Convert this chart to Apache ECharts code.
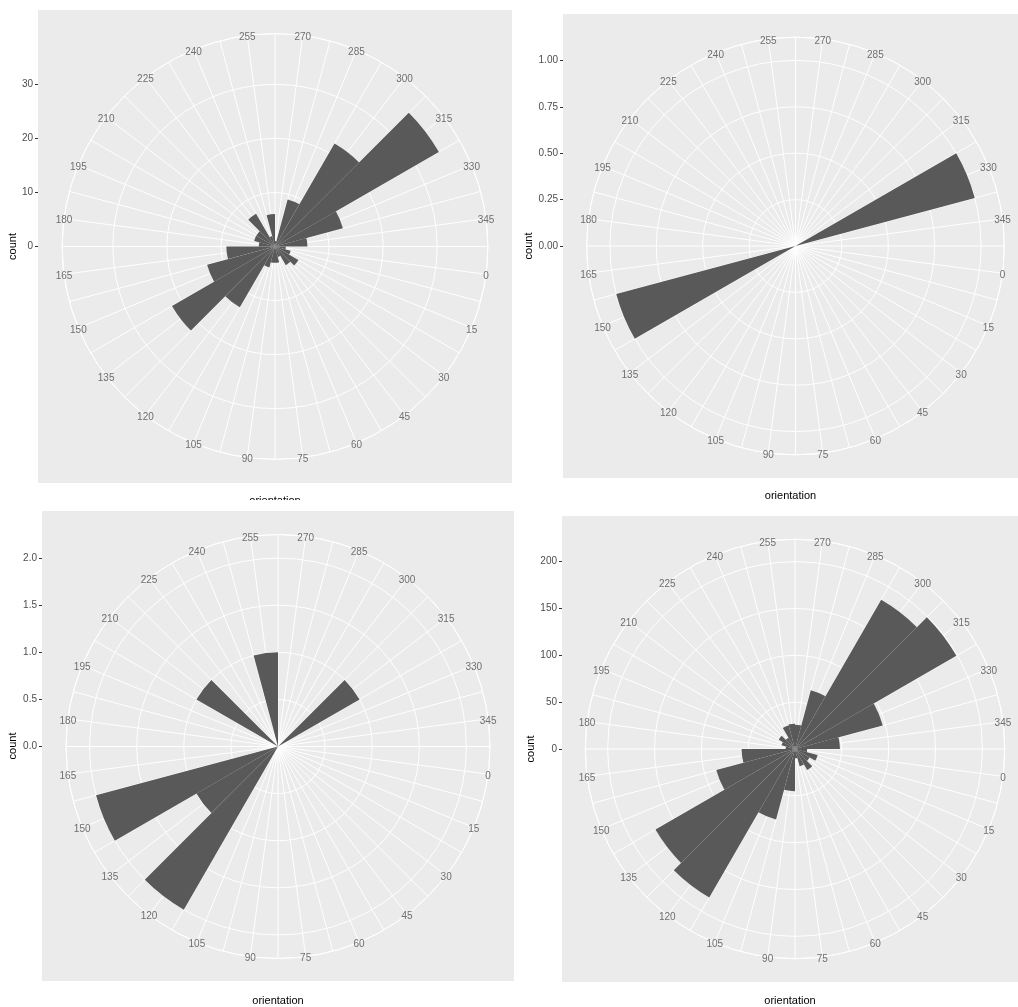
<!DOCTYPE html>
<html><head><meta charset="utf-8">
<script src="https://cdn.jsdelivr.net/npm/echarts@6/dist/echarts.min.js"></script>
<style>html,body{margin:0;padding:0;background:#fff;}#c{width:1018px;height:1007px;}</style>
</head><body><div id="c"></div>
<script>
// ---- data ----
const orientationBins = [0,15,30,45,60,75,90,105,120,135,150,165,180,195,210,225,240,255,270,285,300,315,330,345];
const angleTickLabels = ['0','15','30','45','60','75','90','105','120','135','150','165','180','195','210','225','240','255','270','285','300','315','330','345'];
const counts1 = [2,3,5,4,2,3,3,4,13,22,13,9,3,4,4,7,2,6,1,9,22,35,13,6];
const counts2 = [0,0,0,0,0,0,0,0,0,0,1,0,0,0,0,0,0,0,0,0,0,0,1,0];
const counts3 = [0,0,0,0,0,0,0,0,2,1,2,0,0,0,1,0,0,1,0,0,0,1,0,0];
const counts4 = [13,25,18,26,19,10,45,78,183,172,87,57,10,15,20,14,26,27,26,65,184,199,97,48];
const countTicks1 = [0,10,20,30];
const countTickLabels1 = ['0','10','20','30'];
const countTicks2 = [0,0.25,0.5,0.75,1];
const countTickLabels2 = ['0.00','0.25','0.50','0.75','1.00'];
const countTicks3 = [0,0.5,1,1.5,2];
const countTickLabels3 = ['0.0','0.5','1.0','1.5','2.0'];
const countTicks4 = [0,50,100,150,200];
const countTickLabels4 = ['0','50','100','150','200'];
const xTitle = 'orientation';
const yTitle = 'count';

// ---- layout (pixels) ----
const panels = [
  {left:38, top:10, w:474, h:473, counts:counts1, ticks:countTicks1, tickLabels:countTickLabels1, step:10, nameGap:20, xGap:12},
  {left:563, top:14, w:465, h:464, counts:counts2, ticks:countTicks2, tickLabels:countTickLabels2, step:0.25, nameGap:28, xGap:12},
  {left:42, top:511, w:472, h:471, counts:counts3, ticks:countTicks3, tickLabels:countTickLabels3, step:0.5, nameGap:24, xGap:14},
  {left:562, top:516, w:466, h:466, counts:counts4, ticks:countTicks4, tickLabels:countTickLabels4, step:50, nameGap:25, xGap:13}
];
const FONT = 'Liberation Sans, Arial, sans-serif';
const option = {
  backgroundColor:'#ffffff', animation:false,
  grid:[], xAxis:[], yAxis:[], polar:[], angleAxis:[], radiusAxis:[], series:[],
  graphic:[{type:'rect', shape:{x:0,y:500,width:512,height:10}, style:{fill:'#ffffff'}, z:100, silent:true}]
};
panels.forEach((p,i)=>{
  const M = Math.max(...p.counts);          // count scale upper limit
  const half = p.h/2;
  const cx = p.left + p.w/2, cy = p.top + p.h/2;
  option.grid.push({left:p.left, top:p.top, width:p.w, height:p.h, show:true, backgroundColor:'#EBEBEB', borderWidth:0, z:0});
  option.xAxis.push({gridIndex:i, type:'value', min:0, max:1, axisLine:{show:false}, axisTick:{show:false}, axisLabel:{show:false}, splitLine:{show:false},
    name:xTitle, nameLocation:'middle', nameGap:p.xGap, nameTextStyle:{color:'#000', fontSize:11, fontFamily:FONT}});
  option.yAxis.push({gridIndex:i, type:'value', min:-1.25*M, max:1.25*M, axisLine:{show:false},
    axisTick:{show:true, length:3, customValues:p.ticks, lineStyle:{color:'#333333', width:1}},
    axisLabel:{show:true, customValues:p.ticks, formatter:(v)=>p.tickLabels[p.ticks.indexOf(v)], color:'#4D4D4D', fontSize:10, fontFamily:FONT, margin:5},
    splitLine:{show:false},
    name:yTitle, nameLocation:'middle', nameRotate:90, nameGap:p.nameGap, nameTextStyle:{color:'#000', fontSize:11, fontFamily:FONT}});
  option.polar.push({center:[cx,cy], radius:[0, 0.9*half]});
  option.angleAxis.push({polarIndex:i, type:'value', min:-7.5, max:352.5, interval:7.5, startAngle:0, clockwise:true, z:1,
    axisLine:{show:true, lineStyle:{color:'#ffffff', width:1}}, axisTick:{show:false}, axisLabel:{show:false},
    splitLine:{show:true, lineStyle:{color:'#ffffff', width:1}}});
  option.radiusAxis.push({polarIndex:i, type:'value', min:0, max:1.125*M, interval:p.step, z:1,
    axisLine:{show:false}, axisTick:{show:false}, axisLabel:{show:false},
    splitLine:{show:true, lineStyle:{color:'#ffffff', width:1}}});
  option.series.push({type:'bar', coordinateSystem:'polar', polarIndex:i, barWidth:15, z:3, silent:true,
    itemStyle:{color:'#595959'},
    data: orientationBins.map((b,k)=>[p.counts[k], b])});
  option.series.push({type:'scatter', coordinateSystem:'polar', polarIndex:i, symbolSize:0, z:5, silent:true,
    itemStyle:{color:'transparent'},
    label:{show:true, position:'inside', offset:[0,2], formatter:(q)=>angleTickLabels[q.dataIndex], color:'#4D4D4D', fontSize:10, fontFamily:FONT},
    data: orientationBins.map((b)=>[1.125*M, b])});
});
const chart = echarts.init(document.getElementById('c'), null, {renderer:'canvas'});
chart.setOption(option);
</script></body></html>
